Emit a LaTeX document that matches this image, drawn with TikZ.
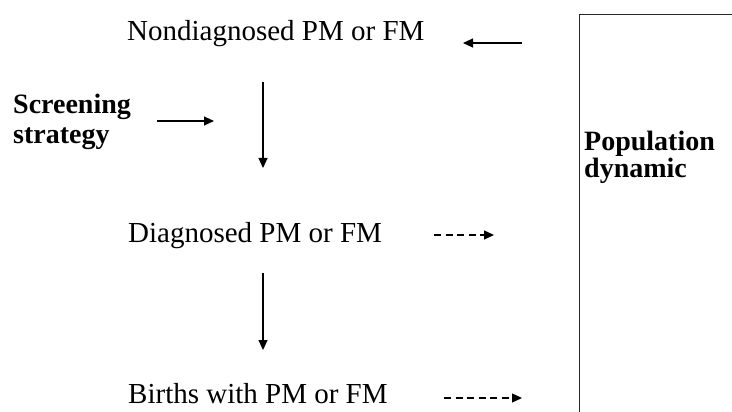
\documentclass[tikz,border=0pt]{standalone}
\usepackage{fontspec}
\setmainfont{Liberation Serif}
\usetikzlibrary{arrows.meta}
\begin{document}
\begin{tikzpicture}[x=1pt,y=-1pt,
  lbl/.style={anchor=base west,inner sep=0pt,font=\fontsize{29}{30}\selectfont},
  blbl/.style={anchor=base west,inner sep=0pt,align=left,font=\fontsize{28}{30}\selectfont\bfseries},
  flow/.style={line width=1.1pt,-{Triangle[length=10pt,width=9pt]}},
  dflow/.style={flow,line width=1.3pt,dash pattern=on 7pt off 4.5pt}]
\useasboundingbox (0,0) rectangle (732,412);
\clip (0,0) rectangle (732,412);
\fill[white] (0,0) rectangle (732,412);
\node[draw=black!85,line width=1.3pt,anchor=north west,minimum width=240,minimum height=430,inner sep=0pt] (box) at (579,14) {};
\node[lbl] (non) at (127,41) {Nondiagnosed PM or FM};
\node[lbl] (diag) at (128,242) {Diagnosed PM or FM};
\node[lbl] (births) at (128,403) {Births with PM or FM};
\node[blbl] (screen) at (13,143) {Screening\\strategy};
\node[blbl,font=\fontsize{28}{25}\selectfont\bfseries] (pop) at (584,177) {Population\\dynamic};
\coordinate (p1s) at (522,43); \coordinate (p1e) at (463,43);
\coordinate (s1s) at (157,121); \coordinate (s1e) at (214,121);
\coordinate (v1s) at (263,82); \coordinate (v1e) at (263,168);
\coordinate (v2s) at (263,273); \coordinate (v2e) at (263,350);
\coordinate (d1s) at (434,235); \coordinate (d1e) at (494,235);
\coordinate (d2s) at (444,398); \coordinate (d2e) at (522,398);
\draw[flow] (p1s) -- (p1e);
\draw[flow] (s1s) -- (s1e);
\draw[flow] (v1s) -- (v1e);
\draw[flow] (v2s) -- (v2e);
\draw[dflow] (d1s) -- (d1e);
\draw[dflow] (d2s) -- (d2e);
\end{tikzpicture}
\end{document}
